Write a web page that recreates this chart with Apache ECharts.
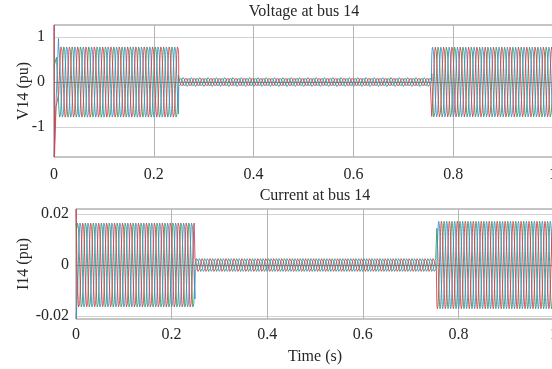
<!DOCTYPE html>
<html>
<head>
<meta charset="utf-8">
<script src="https://cdn.jsdelivr.net/npm/echarts@6/dist/echarts.min.js"></script>
<style>
html,body{margin:0;padding:0;background:#fff;}
#c{width:552px;height:369px;}
</style>
</head>
<body>
<div id="c"></div>
<script>
// ---- data ----
const xTicks = [0, 0.2, 0.4, 0.6, 0.8, 1];
const vTicks = [-1, 0, 1];
const iTicks = [-0.02, 0, 0.02];
const freqHz = 60;                       // ~6 cycles per 0.1 s
const phaseDeg = { blue: -105, red: 135, green: 15 };
// voltage envelope: segment edges (s) and peak amplitudes (pu)
const vEdges = [0.0095, 0.25, 0.757, 1.0];
const vAmps = [0.80, 0.10, 0.80];
// current envelope
const iEdges = [0.002, 0.249, 0.755, 1.0];
const iAmps = [0.0172, 0.0027, 0.0172];
// start-up transient points [t, value]
const vBlueStart = [[0, -1.67], [0.009, 0.97]];
const vRedStart = [[0, 1.27], [0.001, -1.67], [0.004, -0.55]];
const vGreenStart = [[0, 0.35], [0.005, 0.55]];
const iBlueStart = [[0, -0.021]];
const iRedStart = [[0, 0.022]];
const iGreenStart = [[0, 0.016]];

function wave(edges, amps, phase, startPts) {
  const out = startPts.slice();
  const step = 1 / (freqHz * 48);
  for (let s = 0; s < amps.length; s++) {
    for (let t = edges[s]; t < edges[s + 1] - 1e-9; t += step) {
      out.push([t, amps[s] * Math.sin(2 * Math.PI * freqHz * t + phase * Math.PI / 180)]);
    }
  }
  return out;
}

const colors = { blue: '#3b93c8', red: '#d6424c', green: '#3b9a62' };
const font = 'Liberation Serif';
const txt = '#262626';

function mk(name, xi, data) {
  return {
    type: 'line', xAxisIndex: xi, yAxisIndex: xi, data: data,
    showSymbol: false, symbol: 'none', sampling: null, animation: false,
    lineStyle: { width: 0.9, color: colors[name] }, itemStyle: { color: colors[name] }
  };
}

const chart = echarts.init(document.getElementById('c'));
const gridBorder = '#8c8c8c';
function xAx(gi, margin, name) {
  return {
    type: 'value', gridIndex: gi, min: 0, max: 1, interval: 0.2,
    axisLine: { show: true, lineStyle: { color: gridBorder } },
    axisTick: { show: false },
    axisLabel: { color: txt, fontFamily: font, fontSize: 16, margin: margin },
    splitLine: { show: true, lineStyle: { color: '#b4b4b4', width: 1 } },
    name: name || '', nameLocation: 'middle', nameGap: 30, nameMoveOverlap: false,
    nameTextStyle: { color: txt, fontFamily: font, fontSize: 16 }
  };
}
function yAx(gi, mn, mx, ticks, name, gap, margin) {
  return {
    type: 'value', gridIndex: gi, min: mn, max: mx,
    axisLine: { show: true, lineStyle: { color: gridBorder } },
    axisTick: { show: false, customValues: ticks },
    axisLabel: { color: txt, fontFamily: font, fontSize: 16, margin: margin, customValues: ticks },
    splitLine: { show: true, lineStyle: { color: '#d2d2d2', width: 1 } },
    name: name, nameLocation: 'middle', nameGap: gap, nameRotate: 90, nameMoveOverlap: false,
    nameTextStyle: { color: txt, fontFamily: font, fontSize: 16 }
  };
}

chart.setOption({
  animation: false,
  backgroundColor: '#fff',
  grid: [
    { left: 54, top: 25, width: 499, height: 132, show: true, borderColor: gridBorder, borderWidth: 1, containLabel: false, outerBoundsMode: 'none' },
    { left: 76, top: 209, width: 478, height: 110, show: true, borderColor: gridBorder, borderWidth: 1, containLabel: false, outerBoundsMode: 'none' }
  ],
  xAxis: [xAx(0, 10), xAx(1, 8, 'Time (s)')],
  yAxis: [
    yAx(0, -1.67, 1.27, vTicks, 'V14 (pu)', 22, 9),
    yAx(1, -0.0212, 0.022, iTicks, 'I14 (pu)', 44, 7)
  ],
  graphic: [
    { type: 'text', x: 304, y: 12, style: { text: 'Voltage at bus 14', fill: txt, font: '16px "Liberation Serif"', textAlign: 'center', textVerticalAlign: 'middle' } },
    { type: 'text', x: 315, y: 196, style: { text: 'Current at bus 14', fill: txt, font: '16px "Liberation Serif"', textAlign: 'center', textVerticalAlign: 'middle' } }
  ],
  series: [
    mk('green', 0, wave(vEdges, vAmps, phaseDeg.green, vGreenStart)),
    mk('blue', 0, wave(vEdges, vAmps, phaseDeg.blue, vBlueStart)),
    mk('red', 0, wave(vEdges, vAmps, phaseDeg.red, vRedStart)),
    mk('green', 1, wave(iEdges, iAmps, phaseDeg.green, iGreenStart)),
    mk('blue', 1, wave(iEdges, iAmps, phaseDeg.blue, iBlueStart)),
    mk('red', 1, wave(iEdges, iAmps, phaseDeg.red, iRedStart))
  ]
});
</script>
</body>
</html>
